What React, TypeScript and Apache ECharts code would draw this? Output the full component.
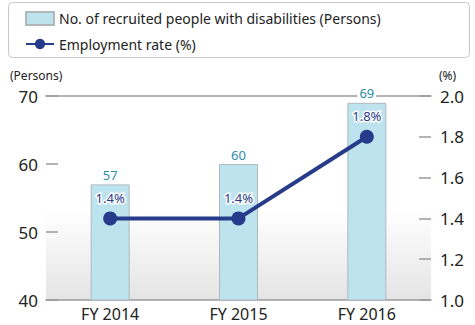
import React, { useEffect, useRef } from "react";
import * as echarts from "echarts";

const categories = ["FY 2014", "FY 2015", "FY 2016"];
const recruited = [57, 60, 69];
const employmentRate = [1.4, 1.4, 1.8];
const barName = "No. of recruited people with disabilities (Persons)";
const lineName = "Employment rate (%)";

const FONT = "'Noto Sans', sans-serif";

export default function App() {
  const ref = useRef<HTMLDivElement>(null);
  useEffect(() => {
    if (!ref.current) return;
    const chart = echarts.init(ref.current, null, { renderer: "svg" });
    chart.setOption({
      animation: false,
      textStyle: { fontFamily: FONT },
      graphic: [
        {
          type: "rect",
          left: 8,
          top: 2,
          shape: { width: 461, height: 55, r: 4 },
          style: { fill: "#fff", stroke: "#c8c8c8", lineWidth: 1 },
          z: -10,
          silent: true,
        },
        {
          type: "rect",
          left: 46,
          top: 210,
          shape: { width: 385, height: 90 },
          style: {
            fill: new echarts.graphic.LinearGradient(0, 0, 0, 1, [
              { offset: 0, color: "rgba(255,255,255,1)" },
              { offset: 1, color: "#e4e4e4" },
            ]),
          },
          z: -10,
          silent: true,
        },
        {
          type: "text",
          left: 10,
          top: 69,
          style: { text: "(Persons)", fontSize: 12, fill: "#222", fontFamily: FONT },
        },
        {
          type: "text",
          left: 439,
          top: 69,
          style: { text: "(%)", fontSize: 12, fill: "#222", fontFamily: FONT },
        },
      ],
      legend: {
        orient: "vertical",
        left: 20,
        top: 6,
        itemWidth: 28,
        itemHeight: 13,
        itemGap: 11,
        textStyle: { fontSize: 14, color: "#222", fontFamily: FONT },
        data: [
          { name: barName, icon: "rect" },
          { name: lineName },
        ],
      },
      grid: { left: 46, right: 44, top: 96, bottom: 25, containLabel: false },
      xAxis: [
        {
          type: "category",
          data: categories,
          axisLine: { show: true, lineStyle: { color: "#9a9a9a", width: 1.5 } },
          axisTick: { show: false },
          axisLabel: { fontSize: 16, color: "#222", margin: 6, fontFamily: FONT },
        },
        {
          type: "category",
          position: "top",
          data: categories,
          axisLine: { show: true, lineStyle: { color: "#9a9a9a", width: 1.5 } },
          axisTick: { show: false },
          axisLabel: { show: false },
        },
      ],
      yAxis: [
        {
          type: "value",
          min: 40,
          max: 70,
          interval: 10,
          axisLine: { show: false },
          axisTick: { show: true, inside: true, length: 12, lineStyle: { color: "#9a9a9a", width: 1.5 } },
          splitLine: { show: false },
          axisLabel: { fontSize: 17, color: "#222", margin: 8, fontFamily: FONT },
        },
        {
          type: "value",
          min: 1.0,
          max: 2.0,
          interval: 0.2,
          position: "right",
          axisLine: { show: false },
          axisTick: { show: true, inside: true, length: 12, lineStyle: { color: "#9a9a9a", width: 1.5 } },
          splitLine: { show: false },
          axisLabel: {
            fontSize: 17,
            color: "#222",
            margin: 9,
            fontFamily: FONT,
            formatter: (v: number) => v.toFixed(1),
          },
        },
      ],
      series: [
        {
          name: barName,
          type: "bar",
          data: recruited,
          barWidth: 39,
          yAxisIndex: 0,
          xAxisIndex: 0,
          itemStyle: { color: "#bde3ef", borderColor: "#b0b8bc", borderWidth: 1 },
          label: {
            show: true,
            position: "top",
            distance: 3,
            fontSize: 13,
            color: "#2a8ea6",
            backgroundColor: "#fff",
            padding: [0, 2],
            fontFamily: FONT,
          },
          z: 2,
        },
        {
          name: lineName,
          type: "line",
          data: employmentRate,
          yAxisIndex: 1,
          xAxisIndex: 0,
          symbol: "circle",
          symbolSize: 14,
          lineStyle: { color: "#263b8a", width: 4 },
          itemStyle: { color: "#263b8a" },
          label: {
            show: true,
            position: "top",
            distance: 7,
            fontSize: 13,
            color: "#263b8a",
            textBorderColor: "#fff",
            textBorderWidth: 3,
            fontFamily: FONT,
            formatter: (p: any) => `${p.value.toFixed(1)}%`,
          },
          z: 5,
        },
      ],
    });
    return () => chart.dispose();
  }, []);
  return <div ref={ref} style={{ width: 475, height: 325, position: "absolute", left: 0, top: 0 }} />;
}
